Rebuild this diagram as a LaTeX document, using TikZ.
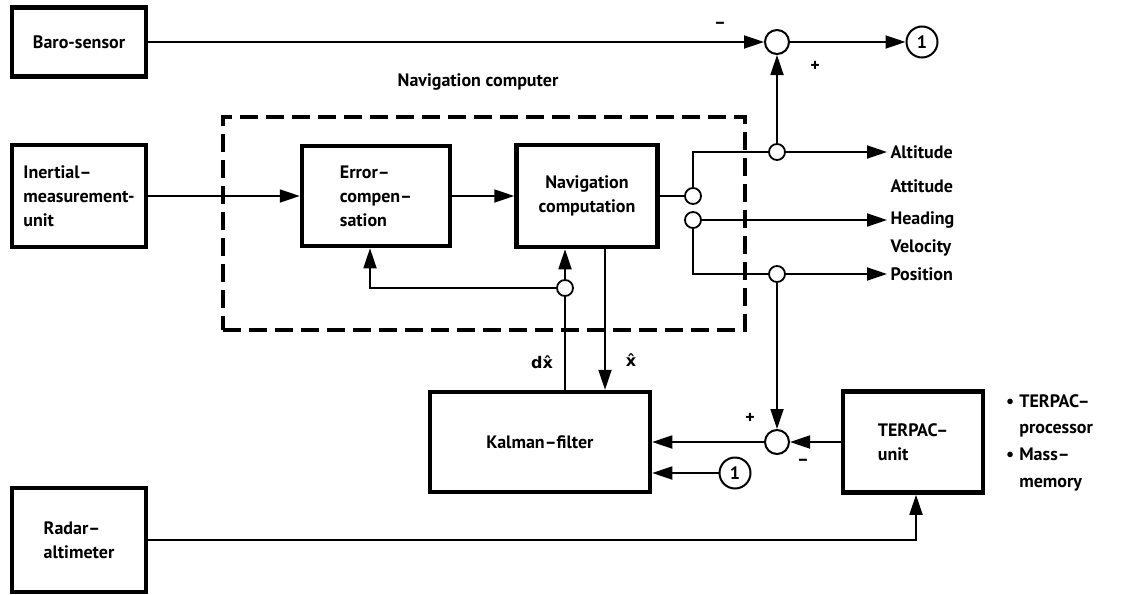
\documentclass[tikz,border=0pt]{standalone}
\usepackage{fontspec}
\setmainfont{PT Sans}
\newfontfamily\hatfont{DejaVu Sans}
\usetikzlibrary{arrows.meta,positioning,calc}

\begin{document}
\begin{tikzpicture}[
  x=1pt,y=-1pt,
  >={Triangle[length=20pt,width=13pt]},
  every node/.style={font=\fontsize{18}{24}\selectfont\bfseries},
  block/.style ={draw,line width=4.5pt,align=left,inner sep=3pt},
  navframe/.style={draw,line width=4pt,dash pattern=on 18pt off 8pt,
                   minimum width=522pt,minimum height=213pt},
  conn/.style  ={line width=1.8pt},
  junc/.style  ={circle,draw,fill=white,line width=1.8pt,
                 minimum size=16pt,inner sep=0pt},
  summ/.style  ={circle,draw,fill=white,line width=2pt,
                 minimum size=24pt,inner sep=0pt},
  refnum/.style={circle,draw,line width=2pt,minimum size=31pt,inner sep=0pt},
  outlbl/.style={anchor=west},
  sig/.style   ={font=\fontsize{16}{20}\selectfont\bfseries\hatfont}
]
\useasboundingbox (0,0) rectangle (1123,594);

% blocks
\node[block,minimum width=134pt,minimum height=69pt]  (baro)  at (79,42)  {Baro-sensor};
\node[block,minimum width=134pt,minimum height=102pt] (imu)   at (79,196) {Inertial--\\measurement-\\unit};
\node[block,minimum width=134pt,minimum height=104pt] (radar) at (79,540) {Radar--\\altimeter};
\node[navframe] (navcomp) at (484,223.5) {};
\node (navlbl) at (478,82) {Navigation computer};
\node[block,minimum width=148pt,minimum height=100pt] (errc)  at (376,196) {Error--\\compen--\\sation};
\node[block,minimum width=141pt,minimum height=102pt,align=center] (navc) at (587,196) {Navigation\\computation};
\node[block,minimum width=220pt,minimum height=100pt,align=center] (kal)  at (540,442) {Kalman--filter};
\node[block,minimum width=140pt,minimum height=101pt] (terp) at (913,442) {TERPAC--\\unit};

% summing points, junctions, references
\node[summ]   (sum1) at (777,42)  {};
\node[refnum] (one1) at (922,42)  {1};
\node[summ]   (sum2) at (777,442) {};
\node[refnum] (one2) at (735,473) {1};
\node[junc]   (jalt) at (777,152) {};
\node[junc]   (jpos) at (777,274) {};
\node[junc]   (ja)   at (693,196) {};
\node[junc]   (jb)   at (693,220) {};
\node[junc]   (jdx)  at (565,288) {};

% outputs
\node[outlbl] (altL) at (887,152) {Altitude};
\node[outlbl] (attL) at (887,186) {Attitude};
\node[outlbl] (hdgL) at (887,220) {Heading};
\node[outlbl] (velL) at (887,248) {Velocity};
\node[outlbl] (posL) at (887,274) {Position};
\node[anchor=north west,inner sep=0pt] (terpL) at (1006,388)
  {\renewcommand{\arraystretch}{1.12}%
   \begin{tabular}{@{}l@{\hspace{5pt}}l@{}}
   \textbullet & TERPAC--\\ & processor\\ \textbullet & Mass--\\ & memory
   \end{tabular}};

% signs and signal names
\node (m1) at (720,25)  {--};
\node (p1) at (815,66)  {+};
\node (p2) at (750,418) {+};
\node (m2) at (803,462) {--};
\node[sig] (dxL) at (542,362) {dx̂};
\node[sig] (xL)  at (631,360) {x̂};

% connectors
\draw[conn,->] (baro) -- (sum1);
\draw[conn,->] (sum1) -- (one1);
\draw[conn,->] (jalt) -- (sum1);
\draw[conn,->] (imu) -- (errc);
\draw[conn,->] (errc) -- (navc);
\draw[conn] (navc) -- (ja);
\draw[conn] (ja.north) |- (jalt.west);
\draw[conn] (jb.south) |- (jpos.west);
\foreach \j/\l in {jalt/altL,jb/hdgL,jpos/posL}
  \draw[conn,->] (\j) -- (\l);
\draw[conn,->] (jpos) -- (sum2);
\draw[conn,->] (terp) -- (sum2);
\draw[conn,->] (sum2) -- (kal);
\draw[conn,->] (one2) -- (kal.east |- one2);
\draw[conn,->] (radar.east) -| ([xshift=3pt]terp.south);
\draw[conn] (kal.north -| jdx) -- (jdx);
\draw[conn,->] (jdx) -- (jdx |- navc.south);
\draw[conn,->] (jdx.west) -| ([xshift=-6pt]errc.south);
\draw[conn,->] ([xshift=18pt]navc.south) -- ([xshift=18pt]navc.south |- kal.north);
\end{tikzpicture}
\end{document}
